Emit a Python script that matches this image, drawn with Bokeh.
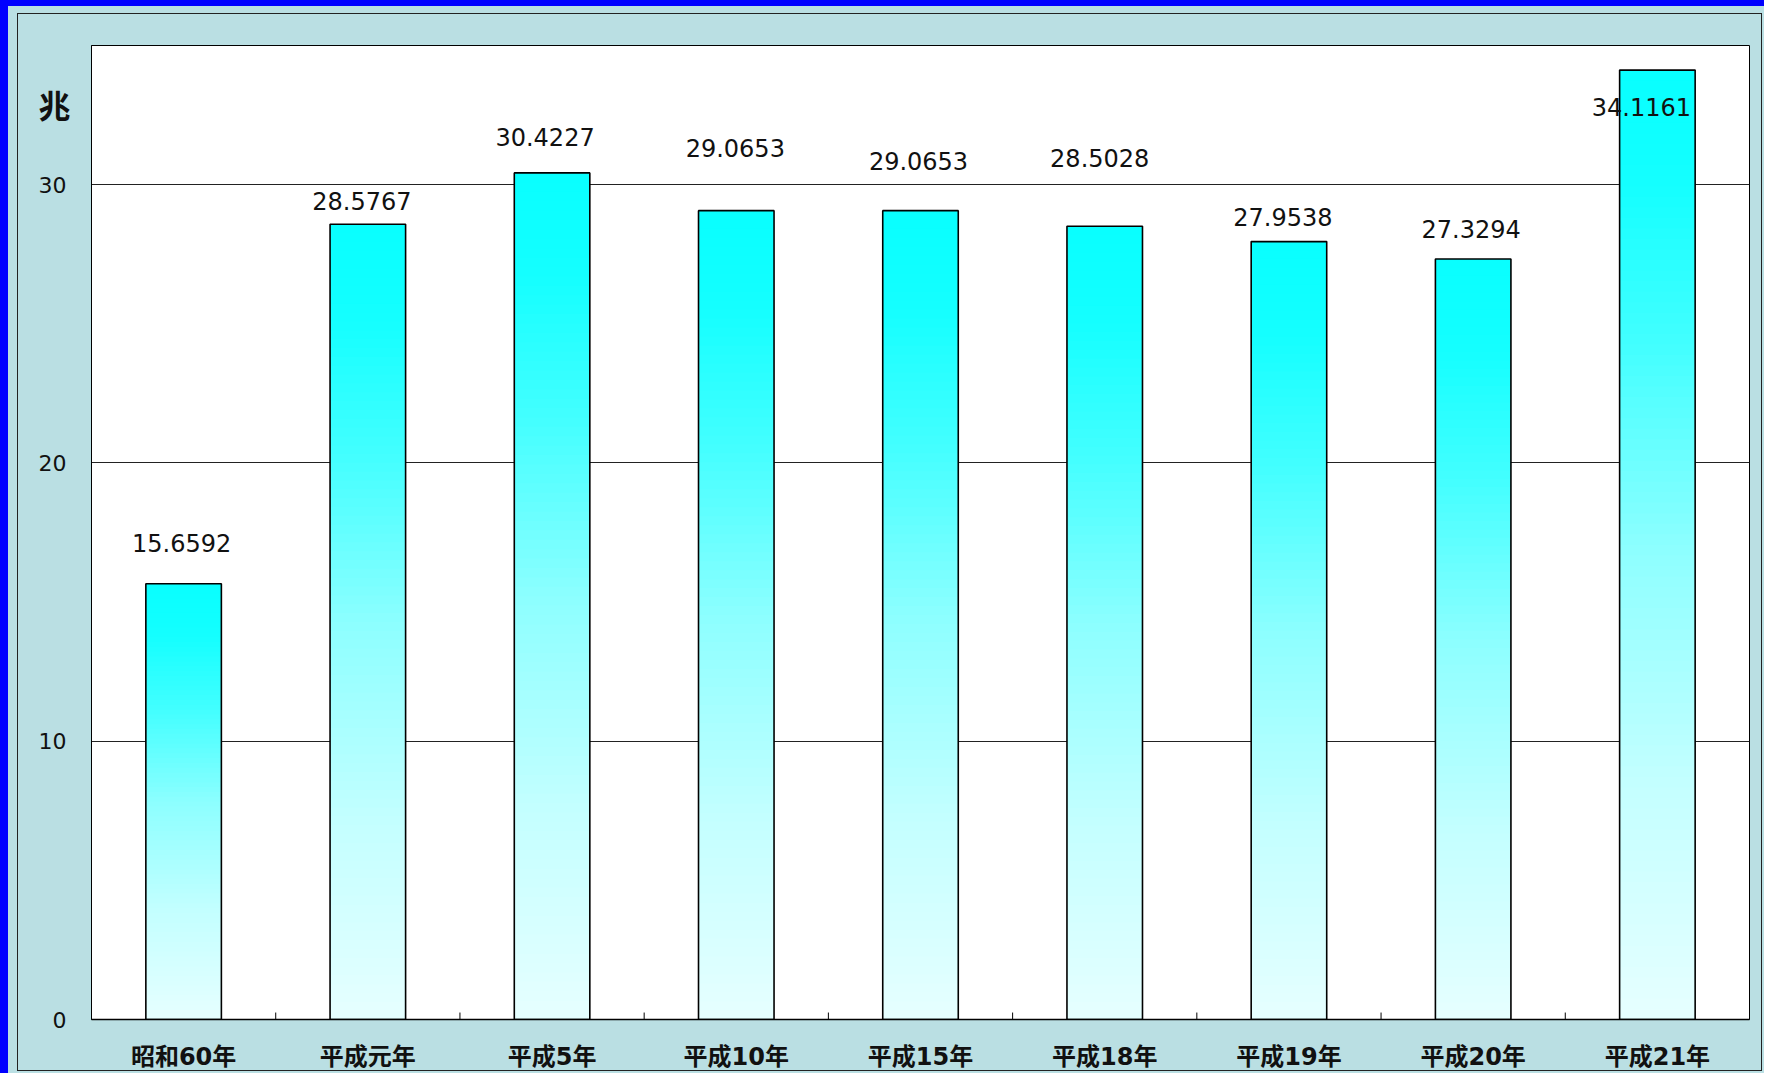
import numpy as np
from bokeh.plotting import figure
from bokeh.models import Range1d, FixedTicker, Label, ColumnDataSource, InlineStyleSheet
from bokeh.core.properties import value
from bokeh.embed import file_html
from bokeh.resources import INLINE

# ---- data ----
categories = ["昭和60年", "平成元年", "平成5年", "平成10年", "平成15年",
              "平成18年", "平成19年", "平成20年", "平成21年"]
values = [15.6592, 28.5767, 30.4227, 29.0653, 29.0653, 28.5028, 27.9538, 27.3294, 34.1161]
y_ticks = [0, 10, 20, 30]
unit_label = "兆"

# ---- label placement (layout only) ----
label_dy = [1.47, 0.82, 1.30, 2.24, 1.79, 2.45, 0.90, 1.09, -1.32]   # data units above bar top
label_dx = [-2, -6, -7, -1, -2, -5, -6, -2, -16]                      # pixels

FONT = "DejaVu Sans, Noto Sans CJK JP"
BG = "#BADFE3"
W, H = 1764, 1073

n = len(categories)
centers = np.arange(n) + 0.5
bar_w = 0.41

p = figure(width=W, height=H, output_backend="svg", toolbar_location=None,
           x_range=Range1d(0, n), y_range=Range1d(0, 35),
           min_border_left=91, min_border_right=W - 1749, min_border_top=45,
           min_border_bottom=H - 1023)
p.background_fill_color = "white"
p.border_fill_color = BG
p.outline_line_color = "black"
p.outline_line_width = 1

# gradient bars
N = 90
stops_t = [0.0, 0.12, 0.3, 0.5, 0.75, 1.0]
stops_r = [8, 20, 70, 140, 195, 230]
L, R, B, T, C = [], [], [], [], []
for c, v in zip(centers, values):
    for k in range(N):
        b = v * k / N
        t = v * (k + 1) / N + v * 0.004
        frac_from_top = 1 - (k + 0.5) / N
        r = int(round(np.interp(frac_from_top, stops_t, stops_r)))
        L.append(c - bar_w / 2); R.append(c + bar_w / 2)
        B.append(b); T.append(min(t, v))
        C.append("#%02xffff" % r)
p.quad(left=L, right=R, bottom=B, top=T, fill_color=C, line_color=None)

# bar outlines
p.vbar(x=centers, top=values, width=bar_w, bottom=0, fill_color=None,
       line_color="black", line_width=1.6)

# boundary ticks on the x axis (pointing inwards)
bounds = np.arange(1, n)
p.segment(x0=bounds, y0=[0] * len(bounds), x1=bounds, y1=[0.25] * len(bounds),
          line_color="black", line_width=1)

# value labels
src = ColumnDataSource(dict(x=centers, y=np.array(values) + np.array(label_dy),
                            t=["%.4f" % v for v in values], dx=label_dx))
p.text(x="x", y="y", text="t", x_offset="dx", source=src, text_align="center",
       text_baseline="middle", text_font=value(FONT), text_font_size="24px",
       text_color="#111111")

# axes
p.xaxis.ticker = FixedTicker(ticks=list(centers))
p.xaxis.major_label_overrides = {float(c): cat for c, cat in zip(centers, categories)}
p.xaxis.major_tick_line_color = None
p.xaxis.minor_tick_line_color = None
p.xaxis.axis_line_color = "black"
p.xaxis.axis_line_width = 1.5
p.xaxis.major_label_standoff = 17
p.xaxis.major_label_text_font = FONT
p.xaxis.major_label_text_font_size = "24px"
p.xaxis.major_label_text_font_style = "bold"
p.xaxis.major_label_text_color = "#111111"

p.yaxis.ticker = FixedTicker(ticks=y_ticks)
p.yaxis.major_tick_line_color = None
p.yaxis.minor_tick_line_color = None
p.yaxis.axis_line_color = "black"
p.yaxis.major_label_standoff = 19
p.yaxis.major_label_text_font = FONT
p.yaxis.major_label_text_font_size = "22px"
p.yaxis.major_label_text_color = "#111111"

p.xgrid.grid_line_color = None
p.ygrid.ticker = FixedTicker(ticks=y_ticks)
p.ygrid.grid_line_color = "#222222"
p.ygrid.grid_line_width = 1

# unit label, placed in the left side panel so that it is not clipped to the frame
p.add_layout(Label(x=54, y=103, x_units="canvas", y_units="canvas", text=unit_label,
                   text_align="center", text_baseline="middle",
                   text_font="Noto Sans CJK JP", text_font_size="32px",
                   text_font_style="bold", text_color="#111111"), "left")

# blue edges and outer frame drawn on the figure element
css = """
:host { position: relative; }
:host::after { content: ""; position: absolute; left: 0; top: 0; right: 0; bottom: 0;
  border-left: 8px solid #0000FF; border-top: 6px solid #0000FF;
  pointer-events: none; z-index: 20; }
:host::before { content: ""; position: absolute; left: 17px; top: 13px;
  width: 1745px; height: 1058px; border: 1.5px solid #222222; box-sizing: border-box;
  pointer-events: none; z-index: 20; }
"""
p.stylesheets = [InlineStyleSheet(css=css)]

open("out.html", "w").write(file_html(p, INLINE))
